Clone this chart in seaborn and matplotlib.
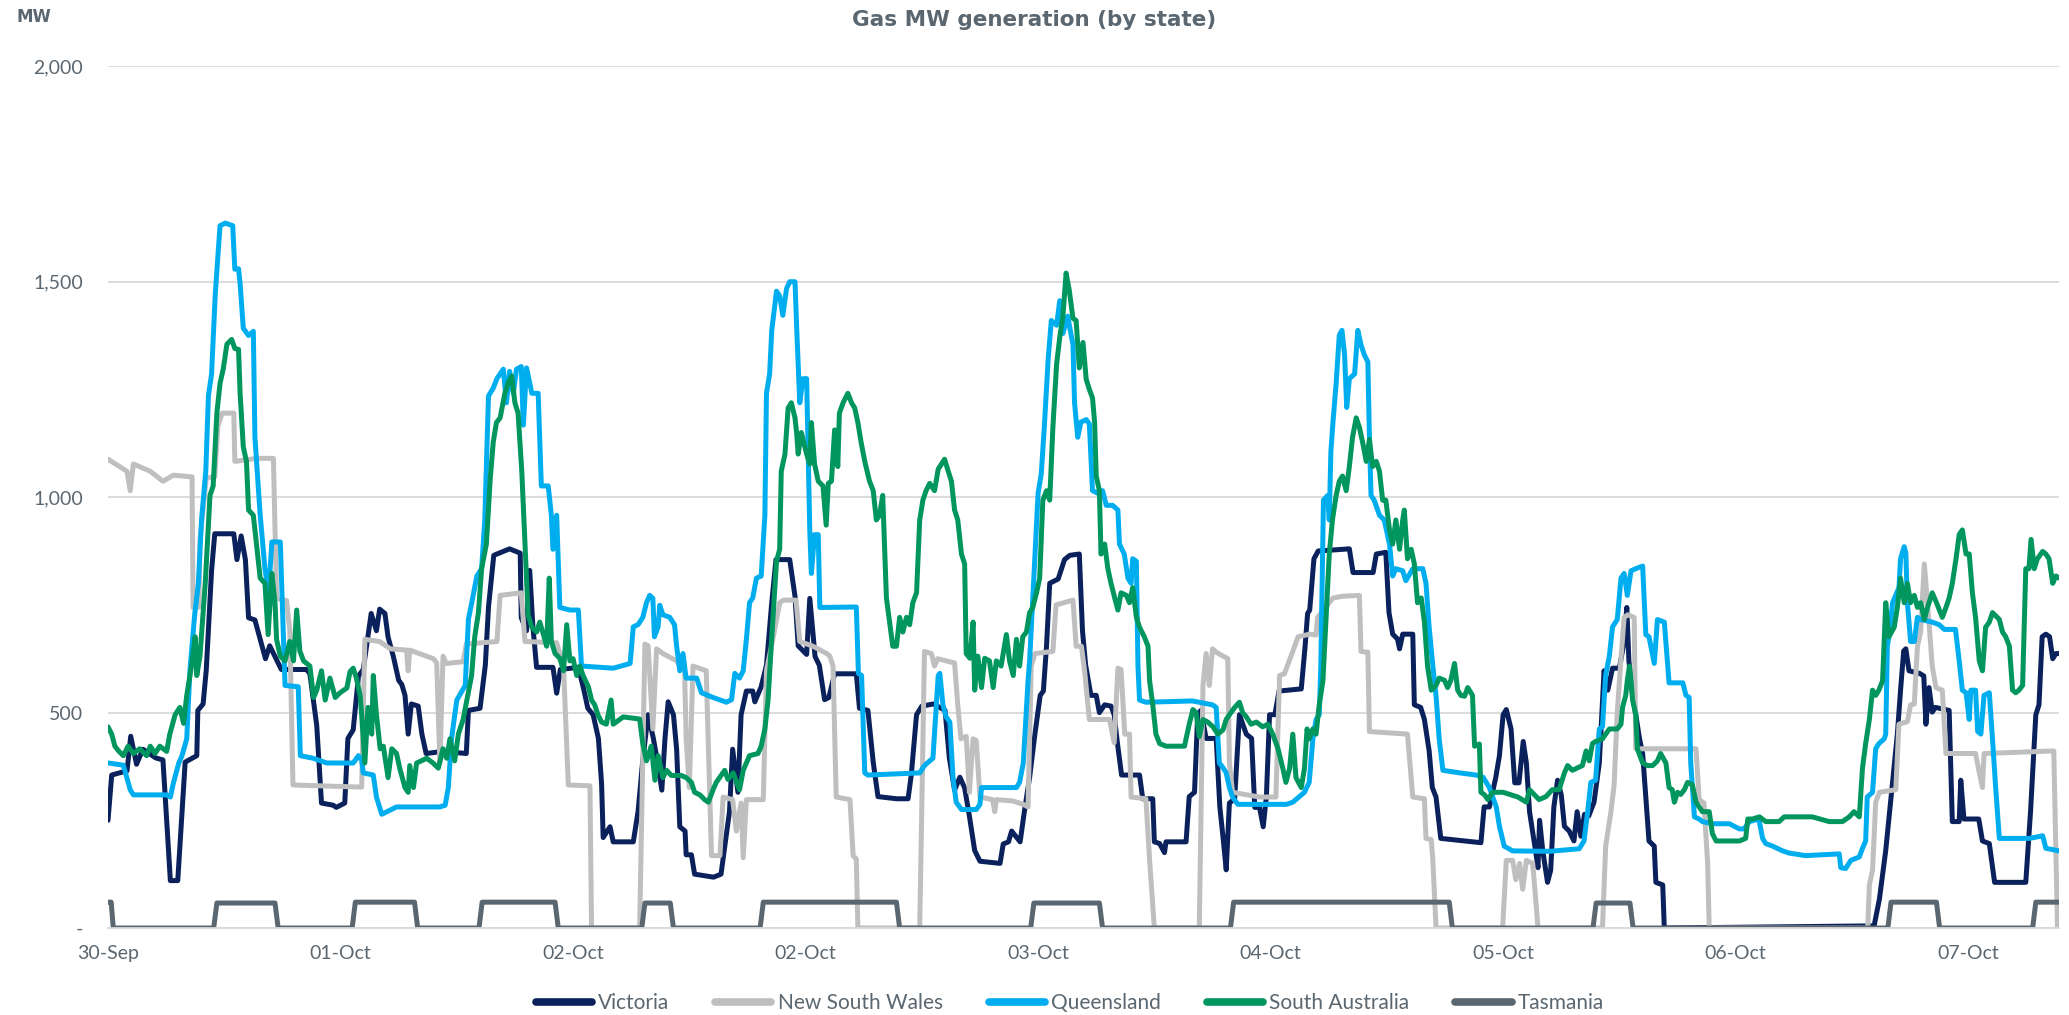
import pandas as pd
import seaborn as sns
import matplotlib.pyplot as plt
import matplotlib.dates as mdates

# hours after the first interval -> MW
start = pd.Timestamp("2019-09-30 05:00")

vic = [(0, 250), (0.35, 355), (1.8, 365), (2.15, 445), (2.7, 380), (3.3, 415), (4.5, 395), (5.2, 390),
       (5.9, 110), (6.6, 110), (7.3, 385), (8.4, 400), (8.5, 505), (9.0, 520), (9.3, 600), (9.8, 830),
       (10.1, 915), (11.9, 915), (12.2, 855), (12.6, 910), (13.0, 855), (13.3, 720), (13.9, 715), (14.4, 670),
       (14.9, 625), (15.3, 655), (15.8, 630), (16.4, 600), (18.8, 600), (19.1, 590), (19.75, 470), (20.2, 290),
       (21.3, 285), (21.6, 280), (22.4, 290), (22.7, 440), (23.2, 460), (23.7, 585), (24.15, 600), (24.9, 730),
       (25.4, 690), (25.7, 740), (26.2, 730), (26.5, 675), (27.0, 630), (27.5, 575), (27.8, 565), (28.1, 540),
       (28.4, 450), (28.7, 520), (29.35, 515), (29.7, 450), (30.1, 405), (31.7, 410), (33.9, 405), (34.1, 505),
       (35.2, 510), (35.7, 610), (36.0, 745), (36.5, 865), (38.0, 880), (39.0, 870), (39.1, 720), (39.6, 690),
       (39.9, 830), (40.2, 700), (40.55, 605), (42.1, 605), (42.45, 545), (42.8, 600), (44.5, 605), (45.0, 555),
       (45.4, 510), (45.9, 495), (46.4, 440), (46.7, 335), (46.85, 210), (47.5, 235), (47.8, 200), (49.7, 200),
       (50.15, 270), (50.6, 390), (51.1, 495), (51.6, 440), (52.0, 385), (52.4, 320), (52.7, 440), (53.0, 525),
       (53.5, 495), (53.8, 415), (54.1, 235), (54.6, 225), (54.7, 170), (55.2, 170), (55.5, 125), (57.3, 118),
       (58.0, 125), (58.5, 215), (58.8, 270), (59.1, 415), (59.6, 315), (59.9, 495), (60.4, 550), (61.0, 550),
       (61.2, 525), (61.8, 560), (62.3, 610), (62.8, 755), (63.2, 855), (64.5, 855), (65.0, 770), (65.3, 655),
       (66.1, 635), (66.4, 765), (66.9, 630), (67.3, 610), (67.8, 530), (68.2, 535), (68.75, 590), (70.8, 590),
       (71.1, 510), (71.9, 505), (72.4, 385), (72.85, 305), (74.6, 300), (75.7, 300), (76.0, 355), (76.5, 495),
       (77.0, 515), (78.1, 520), (79.2, 505), (79.6, 395), (80.1, 320), (80.6, 350), (81.05, 325), (81.5, 260),
       (82.0, 180), (82.5, 155), (84.4, 150), (84.7, 195), (85.2, 200), (85.5, 225), (86.3, 200), (86.7, 270),
       (87.2, 350), (87.7, 450), (88.2, 540), (88.5, 550), (88.8, 655), (89.1, 800), (89.9, 810), (90.5, 855),
       (91.0, 865), (91.9, 868), (92.2, 690), (92.5, 610), (93.0, 540), (93.5, 540), (93.8, 500), (94.3, 518),
       (94.9, 515), (95.2, 495), (95.5, 430), (95.9, 355), (97.6, 355), (97.9, 300), (98.85, 300), (99.0, 200),
       (99.5, 196), (99.96, 175), (100.1, 200), (102.0, 200), (102.3, 305), (102.8, 315), (103.1, 495),
       (103.4, 505), (103.9, 440), (104.85, 440), (105.2, 280), (105.5, 210), (105.8, 135), (106.1, 290),
       (106.6, 300), (107.05, 495), (107.7, 450), (108.2, 440), (108.5, 280), (108.95, 280), (109.3, 235),
       (109.6, 305), (109.9, 495), (110.4, 495), (110.8, 550), (112.9, 555), (113.25, 650), (113.5, 730),
       (113.7, 738), (114.1, 857), (114.5, 875), (117.45, 880), (117.8, 825), (119.7, 825), (120.0, 868),
       (120.9, 872), (121.2, 732), (121.55, 682), (122.0, 671), (122.2, 648), (122.5, 682), (123.45, 682),
       (123.6, 518), (124.2, 512), (124.55, 484), (125.0, 411), (125.3, 326), (125.65, 304), (126.1, 208),
       (129.9, 198), (130.2, 281), (130.7, 281), (131.3, 349), (131.65, 400), (132.0, 495), (132.3, 507),
       (132.75, 462), (133.1, 337), (133.5, 337), (133.9, 433), (134.2, 383), (134.5, 270), (135.0, 190),
       (135.3, 140), (135.45, 250), (135.75, 179), (136.2, 106), (136.5, 134), (136.8, 281), (137.15, 343),
       (137.5, 309), (137.8, 236), (138.25, 225), (138.7, 202), (139.0, 270), (139.35, 213), (139.7, 264),
       (140.1, 260), (140.6, 292), (141.1, 383), (141.55, 597), (141.9, 552), (142.35, 603), (143.0, 603),
       (143.45, 665), (143.7, 744), (143.9, 620), (144.25, 540), (144.55, 495), (144.9, 440), (145.2, 405),
       (145.5, 304), (145.8, 202), (146.3, 190), (146.45, 106), (147.1, 100), (147.25, 0), (167.1, 5),
       (167.6, 67), (168.2, 180), (168.8, 326), (169.3, 450), (169.6, 552), (169.9, 643), (170.1, 648),
       (170.4, 597), (171.4, 591), (171.8, 585), (172.0, 473), (172.3, 558), (172.6, 501), (172.9, 512),
       (174.2, 505), (174.5, 247), (175.15, 247), (175.3, 343), (175.6, 253), (177.0, 253), (177.35, 202),
       (178.0, 196), (178.5, 106), (181.45, 106), (181.9, 270), (182.4, 495), (182.7, 518), (183.0, 676),
       (183.35, 682), (183.7, 676), (184.0, 625), (184.3, 637), (184.6, 637)]

nsw = [(0, 1088), (1.8, 1060), (2.1, 1015), (2.4, 1077), (4.0, 1060), (5.2, 1037), (6.2, 1051), (7.95, 1047),
       (8.05, 744), (8.6, 745), (8.7, 900), (9.3, 1045), (10.1, 1047), (10.4, 1165), (10.8, 1195), (11.9, 1195),
       (12.0, 1083), (14.1, 1090), (15.65, 1090), (15.95, 765), (16.9, 760), (17.2, 690), (17.5, 332), (24.0, 327),
       (24.3, 670), (25.7, 665), (26.7, 648), (28.25, 645), (28.4, 597), (28.55, 645), (30.8, 625), (31.1, 615),
       (31.4, 383), (31.7, 631), (32.0, 614), (33.6, 618), (33.9, 659), (36.8, 665), (37.1, 772), (39.1, 778),
       (39.45, 665), (42.45, 662), (43.1, 608), (43.55, 332), (45.6, 330), (45.75, 0), (50.3, 0), (50.8, 659),
       (51.1, 655), (51.55, 462), (51.9, 648), (52.5, 637), (53.8, 620), (54.1, 608), (54.55, 600), (54.7, 440),
       (55.0, 326), (55.35, 608), (56.6, 597), (57.1, 168), (57.9, 168), (58.2, 304), (59.1, 298), (59.45, 225),
       (59.9, 290), (60.1, 163), (60.4, 298), (62.0, 298), (62.3, 597), (62.9, 670), (63.55, 755), (63.9, 761),
       (65.1, 761), (65.45, 665), (66.7, 654), (68.0, 637), (68.3, 631), (68.6, 608), (68.9, 304), (70.2, 298),
       (70.5, 168), (70.8, 160), (70.95, 0), (76.8, 0), (77.25, 642), (77.9, 637), (78.2, 608), (78.5, 625),
       (80.1, 615), (80.4, 518), (80.7, 439), (81.2, 445), (81.5, 315), (81.85, 439), (82.15, 435), (82.5, 304),
       (83.7, 298), (83.9, 270), (84.05, 298), (85.6, 295), (86.6, 287), (87.05, 281), (87.35, 608), (87.7, 637),
       (89.4, 642), (89.7, 750), (91.3, 761), (91.6, 654), (92.1, 654), (92.4, 597), (92.85, 484), (94.75, 484),
       (95.2, 430), (95.55, 603), (95.85, 600), (96.2, 450), (96.65, 450), (96.8, 304), (98.2, 300), (98.55, 157),
       (99.0, 0), (103.25, 0), (103.6, 563), (103.9, 637), (104.2, 563), (104.5, 648), (104.85, 640), (105.95, 625),
       (106.1, 383), (106.4, 315), (108.95, 304), (110.5, 304), (110.85, 586), (111.3, 590), (112.1, 642),
       (112.6, 676), (113.7, 682), (114.3, 680), (114.45, 721), (115.2, 744), (115.9, 766), (116.8, 770),
       (118.4, 772), (118.55, 642), (119.2, 640), (119.35, 456), (122.95, 450), (123.45, 304), (124.55, 300),
       (124.7, 208), (125.2, 205), (125.35, 157), (125.65, 0), (131.95, 0), (132.3, 157), (132.9, 157),
       (133.2, 112), (133.55, 150), (133.85, 90), (134.2, 157), (134.8, 150), (135.3, 0), (141.4, 0),
       (141.7, 190), (142.2, 270), (142.5, 332), (142.8, 501), (143.15, 625), (143.45, 721), (143.8, 727),
       (144.4, 721), (144.55, 416), (150.25, 416), (150.55, 298), (151.0, 290), (151.35, 150), (151.5, 0),
       (166.5, 0), (166.65, 100), (166.95, 134), (167.25, 292), (167.6, 315), (169.15, 321), (169.45, 473),
       (170.25, 479), (170.55, 518), (170.9, 520), (171.2, 654), (171.5, 687), (171.85, 845), (172.15, 755),
       (172.6, 608), (172.95, 558), (173.55, 552), (173.9, 405), (176.7, 405), (177.05, 361), (177.35, 326),
       (177.5, 405), (184.1, 411), (184.45, 0)]

qld = [(0, 383), (1.45, 378), (2.1, 321), (2.4, 309), (5.55, 309), (5.9, 304), (6.2, 338), (6.7, 383), (7.0, 400),
       (7.45, 439), (7.75, 597), (8.2, 727), (8.55, 800), (8.85, 947), (9.25, 1060), (9.5, 1235), (9.8, 1286),
       (10.15, 1472), (10.6, 1630), (11.1, 1636), (11.8, 1630), (12.0, 1529), (12.35, 1530), (12.5, 1495),
       (12.8, 1392), (13.3, 1375), (13.75, 1385), (13.9, 1139), (14.4, 958), (14.85, 834), (15.2, 778),
       (15.5, 896), (16.3, 896), (16.75, 563), (18.0, 560), (18.2, 400), (19.4, 394), (20.7, 383), (23.2, 383),
       (23.7, 400), (24.0, 390), (24.15, 360), (25.1, 355), (25.4, 304), (25.9, 264), (26.4, 270), (27.3, 281),
       (31.4, 281), (31.9, 285), (32.2, 326), (32.5, 439), (33.0, 529), (33.8, 563), (34.1, 716), (34.55, 772),
       (34.9, 817), (35.35, 834), (35.65, 947), (36.0, 1235), (36.45, 1253), (36.8, 1275), (37.4, 1297),
       (37.7, 1219), (38.0, 1292), (38.35, 1241), (38.65, 1297), (39.1, 1303), (39.3, 1167), (39.6, 1300),
       (40.1, 1241), (40.7, 1241), (41.0, 1026), (41.65, 1026), (41.95, 958), (42.1, 879), (42.45, 958),
       (42.75, 744), (43.7, 738), (44.5, 738), (44.8, 608), (47.8, 603), (49.4, 614), (49.7, 699), (50.15, 704),
       (50.6, 721), (50.95, 755), (51.25, 772), (51.55, 765), (51.7, 676), (52.05, 699), (52.2, 749), (52.5, 727),
       (53.15, 721), (53.6, 704), (53.8, 654), (54.1, 597), (54.4, 637), (54.7, 580), (55.7, 580), (56.15, 546),
       (57.25, 535), (58.5, 524), (59.0, 530), (59.3, 591), (59.75, 580), (60.1, 597), (60.4, 670), (60.7, 755),
       (61.0, 766), (61.35, 812), (61.8, 817), (62.15, 958), (62.3, 1241), (62.6, 1286), (62.8, 1387),
       (63.25, 1478), (63.55, 1467), (63.85, 1422), (64.2, 1484), (64.5, 1500), (65.0, 1500), (65.15, 1399),
       (65.45, 1219), (65.75, 1275), (66.1, 1275), (66.4, 921), (66.55, 823), (66.85, 913), (67.2, 913),
       (67.35, 744), (70.8, 745), (71.0, 591), (71.3, 586), (71.6, 360), (71.9, 355), (76.8, 360), (77.25, 377),
       (77.75, 388), (78.05, 394), (78.55, 586), (78.7, 591), (79.0, 518), (79.3, 490), (79.65, 478),
       (79.95, 349), (80.25, 292), (80.75, 275), (82.15, 275), (82.5, 287), (82.65, 326), (85.95, 326),
       (86.25, 338), (86.6, 383), (87.05, 574), (87.2, 620), (87.5, 766), (88.0, 1009), (88.3, 1054),
       (88.6, 1167), (88.95, 1319), (89.25, 1410), (89.75, 1399), (90.05, 1456), (90.35, 1380), (90.8, 1420),
       (91.3, 1354), (91.45, 1219), (91.75, 1139), (92.05, 1174), (92.55, 1180), (92.85, 1170), (93.15, 1015),
       (93.65, 1009), (94.1, 1015), (94.45, 981), (95.05, 981), (95.55, 970), (95.7, 891), (96.15, 868),
       (96.5, 812), (96.8, 800), (96.95, 857), (97.3, 851), (97.45, 608), (97.6, 529), (98.2, 524), (102.6, 527),
       (104.5, 518), (104.85, 512), (105.15, 383), (105.5, 372), (105.8, 360), (106.1, 326), (106.4, 304),
       (106.9, 287), (111.5, 287), (112.1, 292), (113.2, 315), (113.65, 338), (114.0, 439), (114.3, 484),
       (114.6, 495), (114.75, 608), (115.0, 993), (115.4, 1004), (115.55, 947), (115.7, 1105), (115.9, 1174),
       (116.2, 1264), (116.5, 1376), (116.75, 1387), (117.0, 1331), (117.2, 1208), (117.45, 1275), (117.95, 1286),
       (118.25, 1387), (118.55, 1354), (118.85, 1331), (119.2, 1314), (119.35, 1139), (119.5, 1004), (119.8, 993),
       (120.3, 958), (120.75, 947), (121.25, 891), (121.55, 817), (121.85, 834), (122.5, 829), (122.8, 806),
       (123.45, 834), (124.4, 834), (124.7, 800), (125.0, 698), (125.35, 608), (125.65, 540), (125.95, 439),
       (126.3, 366), (127.9, 360), (129.45, 355), (130.1, 350), (130.7, 326), (131.35, 281), (131.65, 236),
       (132.1, 190), (132.9, 179), (136.4, 178), (139.2, 184), (139.65, 202), (140.0, 270), (140.3, 338),
       (140.75, 343), (141.1, 462), (141.4, 467), (141.7, 586), (142.05, 631), (142.35, 699), (142.8, 716),
       (143.15, 812), (143.45, 823), (143.75, 772), (144.1, 829), (144.55, 834), (145.2, 840), (145.5, 681),
       (145.8, 676), (146.3, 614), (146.6, 716), (147.25, 710), (147.7, 569), (149.0, 569), (149.3, 540),
       (149.6, 535), (149.75, 383), (150.1, 258), (150.55, 253), (150.85, 247), (151.8, 242), (153.4, 242),
       (154.35, 230), (154.8, 230), (155.3, 247), (156.2, 253), (156.55, 208), (156.85, 196), (157.5, 190),
       (158.45, 179), (159.05, 174), (160.6, 168), (163.8, 172), (163.95, 140), (164.4, 138), (164.9, 157),
       (165.7, 165), (166.0, 185), (166.3, 202), (166.45, 304), (166.95, 315), (167.25, 416), (167.55, 428),
       (168.05, 439), (168.2, 450), (168.35, 654), (168.5, 676), (168.85, 755), (169.45, 790), (169.6, 857),
       (169.95, 885), (170.1, 870), (170.25, 755), (170.55, 665), (170.9, 665), (171.2, 721), (171.5, 716),
       (172.6, 710), (173.25, 704), (173.75, 693), (174.8, 693), (175.15, 620), (175.45, 552), (175.8, 546),
       (176.1, 484), (176.25, 552), (176.7, 552), (176.9, 456), (177.2, 450), (177.5, 540), (178.0, 546),
       (178.3, 439), (178.6, 326), (178.95, 208), (181.8, 208), (183.05, 214), (183.35, 185), (184.6, 179)]

sa = [(0, 467), (0.35, 450), (0.65, 422), (1.0, 411), (1.45, 400), (1.9, 422), (2.4, 405), (3.0, 416), (3.65, 400),
      (4.0, 422), (4.45, 405), (4.9, 422), (5.55, 410), (5.85, 450), (6.35, 495), (6.8, 512), (7.15, 475),
      (7.45, 540), (7.9, 608), (8.25, 676), (8.4, 586), (8.7, 631), (9.2, 800), (9.65, 1004), (9.95, 1026),
      (10.3, 1195), (10.6, 1264), (10.9, 1297), (11.25, 1355), (11.7, 1366), (12.0, 1345), (12.35, 1343),
      (12.5, 1241), (12.8, 1117), (13.1, 1083), (13.3, 970), (13.75, 958), (14.05, 891), (14.4, 812),
      (14.85, 800), (15.15, 681), (15.5, 823), (15.8, 755), (15.95, 670), (16.3, 631), (16.75, 620), (17.2, 665),
      (17.55, 620), (17.85, 738), (18.15, 643), (18.5, 620), (19.1, 608), (19.45, 535), (19.75, 552),
      (20.2, 597), (20.55, 529), (21.0, 580), (21.5, 535), (21.95, 546), (22.6, 557), (22.9, 595), (23.2, 603),
      (23.5, 580), (23.85, 540), (24.0, 495), (24.3, 383), (24.6, 512), (24.95, 450), (25.1, 586), (25.4, 495),
      (25.75, 416), (26.05, 422), (26.5, 349), (26.85, 416), (27.3, 405), (27.6, 371), (28.1, 326), (28.4, 315),
      (28.55, 377), (28.9, 326), (29.2, 383), (29.65, 388), (30.15, 394), (30.75, 383), (31.25, 371),
      (31.7, 416), (32.05, 394), (32.35, 439), (32.8, 388), (33.15, 450), (33.6, 484), (33.95, 529), (34.4, 586),
      (34.7, 676), (35.05, 732), (35.35, 834), (35.8, 891), (36.15, 1037), (36.45, 1128), (36.75, 1173),
      (37.1, 1184), (37.55, 1241), (37.85, 1264), (38.2, 1281), (38.5, 1219), (38.8, 1195), (39.15, 1060),
      (39.45, 891), (39.75, 727), (40.1, 698), (40.55, 687), (40.85, 710), (41.2, 681), (41.5, 654), (41.75, 812),
      (41.95, 665), (42.3, 637), (42.75, 626), (43.1, 597), (43.4, 704), (43.7, 620), (44.0, 625), (44.35, 586),
      (44.65, 608), (44.95, 586), (45.45, 560), (45.75, 529), (46.05, 518), (46.35, 495), (46.7, 478),
      (47.15, 473), (47.6, 529), (47.8, 473), (48.75, 490), (50.3, 485), (50.6, 428), (50.95, 388), (51.4, 422),
      (51.75, 343), (52.05, 400), (52.5, 349), (52.85, 366), (53.3, 354), (54.25, 354), (54.7, 349), (55.2, 338),
      (55.5, 315), (56.0, 309), (56.45, 298), (56.8, 292), (57.25, 321), (57.55, 338), (58.35, 366),
      (58.65, 345), (59.15, 360), (59.45, 340), (59.75, 321), (60.1, 366), (60.4, 383), (60.7, 400), (61.5, 405),
      (61.8, 422), (62.15, 462), (62.45, 529), (62.75, 654), (63.25, 851), (63.55, 879), (63.7, 1060),
      (63.85, 1077), (64.05, 1100), (64.35, 1207), (64.65, 1219), (65.0, 1184), (65.15, 1150), (65.3, 1100),
      (65.6, 1150), (66.1, 1100), (66.4, 1077), (66.55, 1173), (66.85, 1077), (67.2, 1037), (67.65, 1026),
      (67.95, 935), (68.15, 1032), (68.45, 1037), (68.75, 1156), (69.05, 1071), (69.2, 1195), (69.55, 1219),
      (70.0, 1241), (70.35, 1219), (70.65, 1207), (70.95, 1173), (71.25, 1128), (71.6, 1083), (72.05, 1037),
      (72.4, 1015), (72.7, 947), (73.0, 958), (73.3, 1004), (73.65, 766), (73.95, 710), (74.25, 654),
      (74.6, 654), (74.9, 721), (75.2, 687), (75.55, 721), (75.85, 704), (76.15, 755), (76.5, 778), (76.8, 947),
      (77.1, 993), (77.4, 1015), (77.75, 1032), (78.2, 1015), (78.55, 1065), (79.15, 1088), (79.5, 1060),
      (79.8, 1037), (80.1, 970), (80.4, 947), (80.75, 868), (81.05, 845), (81.2, 637), (81.55, 626), (81.85, 710),
      (82.0, 552), (82.3, 631), (82.65, 558), (82.95, 626), (83.4, 620), (83.75, 558), (84.05, 620), (84.5, 608),
      (85.0, 681), (85.3, 620), (85.65, 586), (85.95, 670), (86.25, 608), (86.55, 676), (86.9, 687), (87.2, 732),
      (87.5, 744), (87.85, 778), (88.15, 812), (88.45, 993), (88.8, 1015), (89.1, 993), (89.4, 1162),
      (89.75, 1308), (90.05, 1371), (90.35, 1420), (90.65, 1520), (90.95, 1480), (91.3, 1415), (91.6, 1410),
      (91.9, 1300), (92.25, 1359), (92.55, 1274), (92.85, 1250), (93.15, 1230), (93.35, 1173), (93.5, 1049),
      (93.8, 1015), (93.95, 868), (94.3, 891), (94.6, 834), (94.9, 800), (95.25, 766), (95.55, 738), (95.85, 778),
      (96.35, 772), (96.65, 755), (96.95, 790), (97.3, 721), (97.6, 698), (98.05, 676), (98.4, 654), (98.55, 574),
      (98.85, 518), (99.15, 450), (99.5, 428), (100.1, 422), (101.85, 422), (102.3, 473), (102.65, 507),
      (102.95, 500), (103.25, 444), (103.6, 484), (104.05, 478), (104.55, 467), (105.0, 450), (105.5, 460),
      (105.8, 484), (106.1, 495), (106.6, 512), (107.05, 524), (107.35, 500), (107.7, 490), (108.15, 473),
      (108.65, 478), (109.25, 467), (109.75, 473), (110.2, 450), (110.7, 416), (111.15, 371), (111.45, 338),
      (111.8, 371), (112.1, 450), (112.4, 349), (112.9, 326), (113.2, 370), (113.45, 462), (113.65, 439),
      (114.0, 462), (114.3, 450), (114.6, 518), (114.95, 574), (115.25, 721), (115.55, 868), (115.85, 947),
      (116.2, 1004), (116.5, 1037), (116.8, 1049), (117.15, 1015), (117.45, 1071), (117.75, 1139), (118.1, 1184),
      (118.4, 1162), (118.7, 1128), (119.05, 1083), (119.35, 1134), (119.65, 1071), (120.0, 1083), (120.3, 1060),
      (120.6, 993), (120.9, 993), (121.25, 924), (121.55, 891), (121.85, 947), (122.2, 879), (122.5, 947),
      (122.65, 970), (122.95, 857), (123.3, 879), (123.6, 845), (123.9, 755), (124.25, 766), (124.55, 710),
      (124.85, 608), (125.2, 552), (125.65, 563), (125.95, 580), (126.45, 575), (126.75, 558), (127.05, 575),
      (127.4, 614), (127.7, 552), (128.0, 540), (128.35, 538), (128.65, 558), (129.1, 540), (129.3, 422),
      (129.75, 427), (129.9, 315), (130.25, 309), (130.55, 298), (131.0, 315), (132.0, 315), (133.4, 304),
      (134.2, 292), (134.5, 321), (135.4, 298), (136.05, 305), (136.65, 321), (137.3, 321), (137.8, 360),
      (138.1, 377), (138.55, 366), (139.5, 377), (139.85, 411), (140.15, 388), (140.45, 428), (140.75, 433),
      (141.4, 439), (141.7, 450), (142.05, 462), (142.8, 462), (143.15, 473), (143.3, 512), (143.6, 540),
      (143.75, 574), (143.95, 608), (144.1, 574), (144.25, 529), (144.55, 495), (144.7, 416), (145.2, 383),
      (145.65, 377), (146.15, 377), (146.6, 388), (146.9, 405), (147.4, 383), (147.7, 326), (148.0, 321),
      (148.2, 292), (148.5, 315), (148.8, 310), (149.15, 321), (149.45, 338), (149.9, 333), (150.25, 292),
      (150.55, 281), (150.85, 270), (151.5, 270), (151.8, 219), (152.15, 202), (154.35, 202), (154.95, 208),
      (155.15, 253), (155.6, 253), (156.25, 258), (156.85, 247), (158.1, 247), (158.6, 258), (161.25, 258),
      (162.85, 247), (164.1, 247), (164.75, 258), (165.2, 270), (165.7, 258), (166.0, 371), (166.3, 428),
      (166.65, 484), (166.95, 552), (167.25, 540), (167.55, 552), (167.9, 574), (168.2, 755), (168.5, 676),
      (169.0, 698), (169.3, 744), (169.6, 812), (169.95, 755), (170.25, 800), (170.55, 755), (170.9, 772),
      (171.2, 744), (171.5, 755), (171.85, 716), (172.15, 744), (172.6, 778), (173.1, 749), (173.55, 721),
      (173.9, 744), (174.2, 766), (174.5, 800), (174.85, 857), (175.15, 913), (175.45, 924), (175.8, 868),
      (176.1, 868), (176.4, 778), (176.7, 721), (177.05, 620), (177.35, 597), (177.65, 698), (178.0, 710),
      (178.3, 732), (178.95, 716), (179.25, 687), (179.55, 676), (179.9, 654), (180.2, 552), (180.5, 546),
      (180.8, 552), (181.15, 563), (181.45, 834), (181.75, 834), (181.95, 902), (182.25, 834), (182.55, 857),
      (183.05, 874), (183.35, 868), (183.65, 857), (184.0, 800), (184.3, 817), (184.6, 812)]

tas = [(0, 60), (0.3, 60), (0.5, 0), (10.0, 0), (10.3, 58), (15.8, 58), (16.1, 0), (23.1, 0), (23.4, 60),
       (29.0, 60), (29.3, 0), (35.1, 0), (35.4, 60), (42.3, 60), (42.6, 0), (50.5, 0), (50.8, 58), (53.2, 58),
       (53.5, 0), (61.7, 0), (62.0, 60), (74.6, 60), (74.9, 0), (87.3, 0), (87.6, 58), (93.8, 58), (94.1, 0),
       (106.2, 0), (106.5, 60), (126.9, 60), (127.2, 0), (140.5, 0), (140.8, 58), (144.0, 58), (144.3, 0),
       (168.4, 0), (168.7, 60), (173.0, 60), (173.3, 0), (182.1, 0), (182.4, 60), (184.6, 60)]

states = ["Victoria", "New South Wales", "Queensland", "South Australia", "Tasmania"]
colours = ["#0B215C", "#BFBFBF", "#00AEEF", "#00965E", "#5B6770"]

frames = []
for name, series in zip(states, [vic, nsw, qld, sa, tas]):
    hrs, mw = zip(*series)
    frames.append(pd.DataFrame({"time": start + pd.to_timedelta(list(hrs), unit="h"),
                                "MW": list(mw), "state": name}))
df = pd.concat(frames, ignore_index=True)

sns.set_style("white")
plt.rcParams["font.family"] = ["Lato", "DejaVu Sans"]
grey = "#5B6770"

fig = plt.figure(figsize=(20.69, 10.15), dpi=100)
ax = fig.add_axes([0.0522, 0.0857, 0.943, 0.849])

sns.lineplot(data=df, x="time", y="MW", hue="state", hue_order=states, palette=colours,
             estimator=None, sort=False, linewidth=3.6, ax=ax)

# axes
ax.set_ylim(0, 2000)
ax.set_xlim(start, start + pd.Timedelta(hours=184.6))
ax.set_yticks([0, 500, 1000, 1500, 2000])
ax.set_yticklabels(["-", "500", "1,000", "1,500", "2,000"])
ax.set_xticks([start + pd.Timedelta(hours=22 * k) for k in range(9)])
ax.xaxis.set_major_formatter(mdates.DateFormatter("%d-%b"))
ax.set_xlabel("")
ax.set_ylabel("")
ax.yaxis.grid(True, color="#D9D9D9", linewidth=1.3)
ax.xaxis.grid(False)
for side in ["top", "left", "right"]:
    ax.spines[side].set_visible(False)
ax.spines["bottom"].set_color("#D9D9D9")
ax.spines["bottom"].set_linewidth(1.3)
ax.tick_params(axis="both", length=0, labelsize=14, colors=grey)
ax.tick_params(axis="x", pad=12)
ax.tick_params(axis="y", pad=18)

# titles
fig.text(0.5, 1 - 20 / 1015, "Gas MW generation (by state)", ha="center", va="center",
         fontsize=15.5, fontweight="bold", color=grey, family="DejaVu Sans")
fig.text(16 / 2069, 1 - 17 / 1015, "MW", ha="left", va="center",
         fontsize=12, fontweight="bold", color=grey, family="DejaVu Sans")

# legend
sns.move_legend(ax, "center", bbox_to_anchor=(0.493, -0.087), ncol=5, frameon=False, title=None,
                fontsize=15, handlelength=2.7, handletextpad=0.3, columnspacing=2.2)
leg = ax.get_legend()
for line in leg.get_lines():
    line.set_linewidth(5.5)
for t in leg.get_texts():
    t.set_color(grey)

plt.savefig("out.png", dpi=100)
